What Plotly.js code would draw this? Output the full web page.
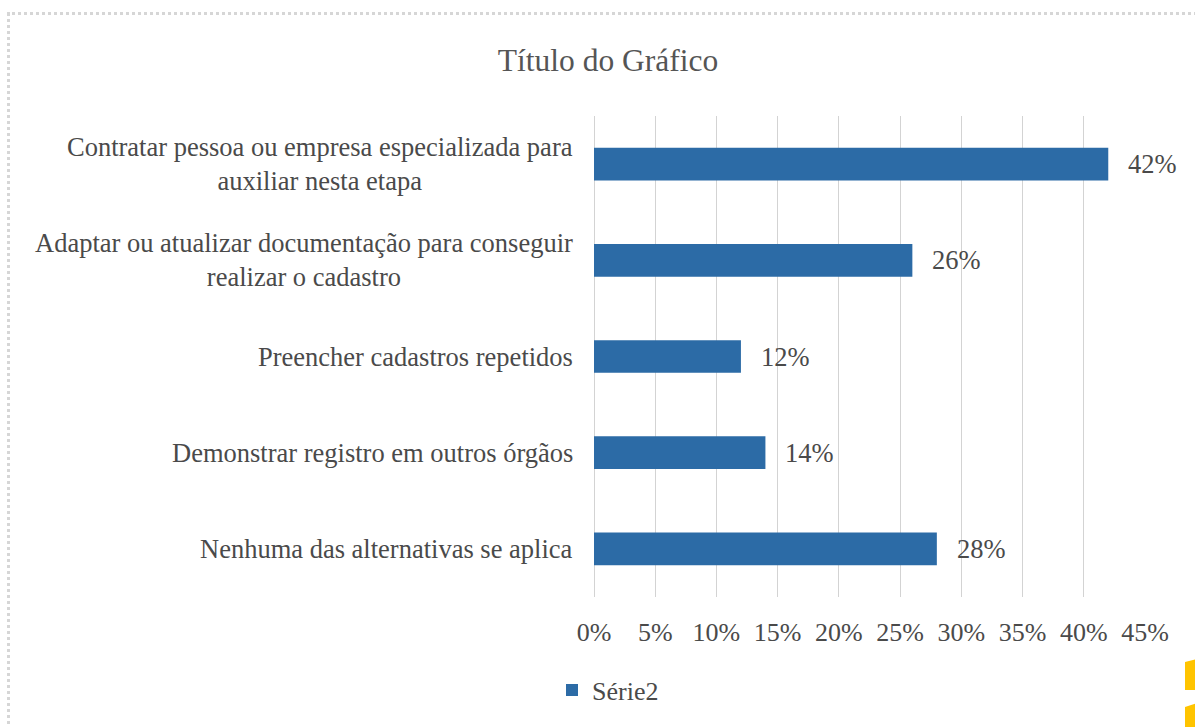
<!DOCTYPE html>
<html>
<head>
<meta charset="utf-8">
<script src="https://cdn.plot.ly/plotly-3.0.1.min.js"></script>
<style>
  html, body { margin: 0; padding: 0; background: #ffffff; overflow: hidden; }
  #wrap { position: relative; width: 1195px; height: 727px; overflow: hidden; }
  #frame { position: absolute; left: 7px; top: 12px; width: 1400px; height: 900px;
           border-left: 3px dotted #d6d6d6; border-top: 3px dotted #d6d6d6; box-sizing: border-box; z-index: 2; pointer-events: none; }
  #chart { position: absolute; left: 0; top: 0; width: 1195px; height: 727px; }
  .deco { position: absolute; background: #ffc400; z-index: 3; }
</style>
</head>
<body>
<div id="wrap">
  <div id="chart"></div>
  <div id="frame"></div>
  <div class="deco" style="left:1185px; top:659px; width:12px; height:31px; clip-path: polygon(0 10%, 100% 0, 100% 100%, 0 100%);"></div>
  <div class="deco" style="left:1185px; top:703px; width:12px; height:26px; clip-path: polygon(0 15%, 100% 0, 100% 100%, 0 100%);"></div>
</div>
<script>
const categories = [
  "Contratar pessoa ou empresa especializada para<br>auxiliar nesta etapa",
  "Adaptar ou atualizar documentação para conseguir<br>realizar o cadastro",
  "Preencher cadastros repetidos",
  "Demonstrar registro em outros órgãos",
  "Nenhuma das alternativas se aplica"
];
const values = [42, 26, 12, 14, 28];
const seriesName = "Série2";
const tickValues = [0, 5, 10, 15, 20, 25, 30, 35, 40, 45];
const chartTitle = "Título do Gráfico";

const FONT = "'Liberation Serif', 'Times New Roman', serif";
const TXT = "#4a4a4a";

const trace = {
  type: "bar",
  orientation: "h",
  x: values,
  y: categories,
  name: seriesName,
  marker: { color: "#2c6ba6" },
  showlegend: true,
  hoverinfo: "x+y"
};

const annotations = [];
categories.forEach((c, i) => {
  annotations.push({
    xref: "paper", yref: "y", x: 0, y: c,
    xanchor: "right", yanchor: "middle", xshift: -19,
    align: "center", showarrow: false,
    text: c, font: { family: FONT, size: 26.5, color: TXT }
  });
  annotations.push({
    xref: "x", yref: "y", x: values[i], y: c,
    xanchor: "left", yanchor: "middle", xshift: 18,
    showarrow: false,
    text: values[i] + "%", font: { family: FONT, size: 26.5, color: TXT }
  });
});

const layout = {
  width: 1195, height: 727,
  paper_bgcolor: "rgba(0,0,0,0)", plot_bgcolor: "rgba(0,0,0,0)",
  margin: { l: 594, r: 50, t: 116, b: 130, pad: 0 },
  title: {
    text: chartTitle,
    font: { family: FONT, size: 31.5, color: "#555555" },
    xref: "container", yref: "container",
    x: 608 / 1195, xanchor: "center",
    y: 1 - 60 / 727, yanchor: "middle"
  },
  bargap: 0.66,
  xaxis: {
    range: [0, 45],
    tickvals: tickValues,
    ticktext: tickValues.map(v => v + "%"),
    showgrid: true, gridcolor: "#d3d3d3", gridwidth: 1,
    zeroline: true, zerolinecolor: "#d3d3d3", zerolinewidth: 1,
    showline: false, ticks: "",
    ticklabelstandoff: 17,
    tickfont: { family: FONT, size: 26, color: TXT },
    fixedrange: true
  },
  yaxis: {
    type: "category",
    autorange: "reversed",
    showticklabels: false, showgrid: false, zeroline: false, showline: false, ticks: "",
    fixedrange: true
  },
  showlegend: true,
  legend: {
    orientation: "h",
    x: (552 - 594) / 551, xanchor: "left",
    y: (597 - 690) / 481, yanchor: "middle",
    font: { family: FONT, size: 26, color: TXT },
    bgcolor: "rgba(0,0,0,0)"
  },
  annotations: annotations
};

Plotly.newPlot("chart", [trace], layout, { displayModeBar: false, staticPlot: true });
</script>
</body>
</html>
